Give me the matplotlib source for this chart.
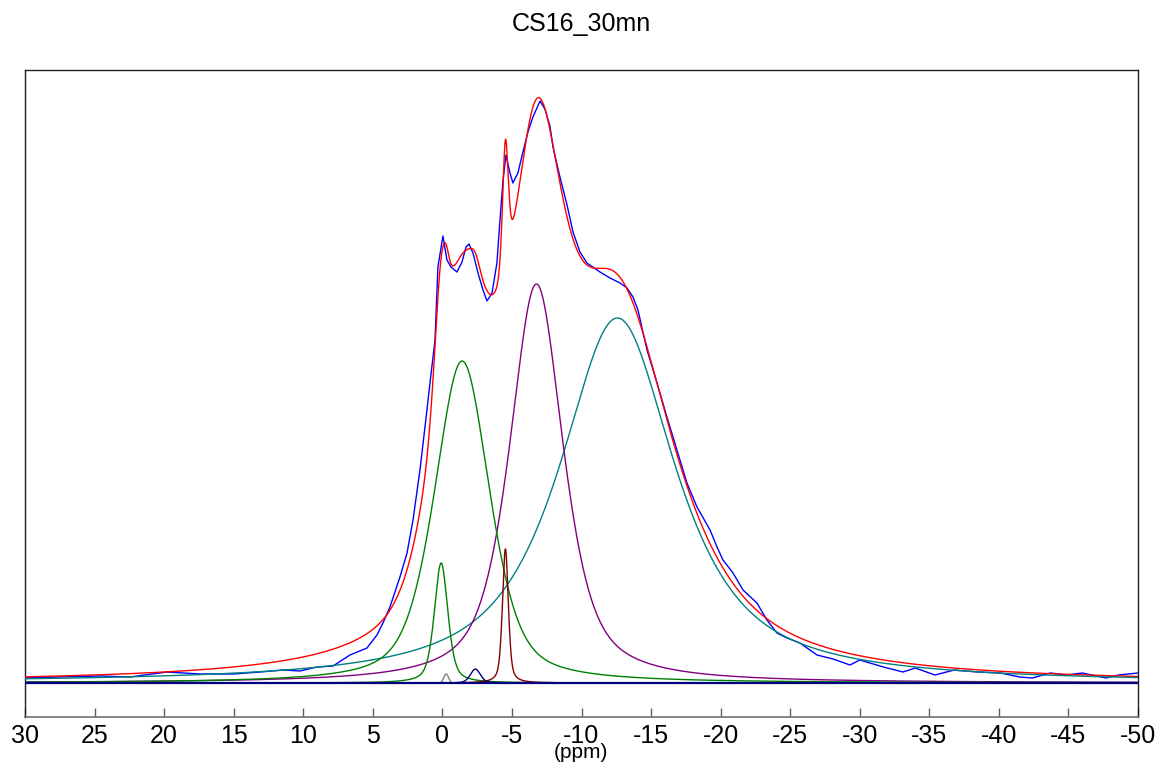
import numpy as np
import matplotlib
matplotlib.use("Agg")
import matplotlib.pyplot as plt

plt.rcParams['font.family'] = ['Liberation Sans', 'DejaVu Sans']

exp_ppm = [30.0, 27.49, 24.61, 22.46, 19.80, 17.42, 15.05, 13.11, 11.46, 10.24,
           9.01, 7.86, 6.64, 5.42, 4.70, 4.27, 3.77, 3.05, 2.54, 2.11,
           1.61, 1.25, 0.89, 0.53, 0.32, -0.04, -0.33, -0.62, -1.05, -1.41,
           -1.70, -1.91, -2.20, -2.56, -2.92, -3.21, -3.57, -3.92, -4.14, -4.36,
           -4.57, -4.86, -5.07, -5.43, -5.79, -6.15, -6.51, -7.02, -7.37, -7.73,
           -7.95, -8.45, -8.96, -9.39, -9.89, -10.39, -11.33, -12.05, -12.77, -13.27,
           -13.70, -14.06, -14.71, -15.43, -16.14, -16.86, -17.58, -18.30, -19.24, -19.74,
           -20.17, -20.89, -21.61, -22.61, -23.33, -24.05, -24.77, -25.70, -26.93, -28.08,
           -29.30, -30.0, -31.7, -33.1, -34.0, -35.4, -36.8, -38.5, -40.1, -41.5,
           -42.4, -43.7, -44.9, -46.0, -47.7, -48.6, -50.0]
exp_int = [5, 6, 7, 6, 11, 9, 9, 11, 13, 12,
           16, 17, 28, 35, 48, 60, 76, 106, 130, 163,
           213, 256, 300, 343, 416, 447, 423, 416, 411, 421,
           436, 439, 430, 410, 393, 382, 390, 420, 463, 503,
           528, 510, 500, 510, 531, 551, 566, 582, 574, 557,
           536, 506, 478, 451, 431, 420, 411, 405, 400, 395,
           386, 373, 333, 300, 266, 233, 200, 176, 153, 136,
           123, 110, 93, 80, 63, 50, 45, 40, 28, 24,
           18, 23, 16, 11, 15, 8, 13, 11, 10, 6,
           5, 10, 8, 10, 5, 8, 10]

# ---- Fitted components (position ppm, height, FWHM ppm, Lorentzian fraction)
comp_names = ['Q0 broad', 'Q0 narrow', 'Q1', 'Q1 narrow', 'Q2', 'Q3', 'Q0 minor']
comp_pos = [-1.42, 0.09, -2.37, -4.53, -6.76, -12.58, -0.27]
comp_height = [322, 120, 14, 134, 399, 365, 9]
comp_fwhm = [4.7, 1.15, 0.85, 0.5, 4.6, 10.0, 0.4]
comp_lfrac = [0.5, 0.5, 0.3, 0.5, 0.65, 0.85, 0.0]
comp_colors = ['#008000', '#008000', '#000080', '#800000', '#800080', '#008080', '#808080']

tick_vals = [30, 25, 20, 15, 10, 5, 0, -5, -10, -15, -20, -25, -30, -35, -40, -45, -50]
tick_labels = ['30', '25', '20', '15', '10', '5', '0', '-5', '-10', '-15', '-20',
               '-25', '-30', '-35', '-40', '-45', '-50']


def pseudo_voigt(x, x0, h, w, eta):
    d = (x - x0) / w
    lor = 1.0 / (1.0 + 4.0 * d ** 2)
    gau = np.exp(-4.0 * np.log(2.0) * d ** 2)
    return h * (eta * lor + (1 - eta) * gau)


grid = np.linspace(30, -50, 8001)
comps = [pseudo_voigt(grid, p, h, w, e)
         for p, h, w, e in zip(comp_pos, comp_height, comp_fwhm, comp_lfrac)]
total = np.sum(comps, axis=0)

fig = plt.figure(figsize=(11.59, 7.63), dpi=100)
ax = fig.add_axes([25 / 1159, 1 - 717 / 763, (1138 - 25) / 1159, (717 - 70) / 763])

ax.plot(exp_ppm, exp_int, color='#0000ff', lw=1.0, zorder=3)
ax.plot(grid, total, color='#ff0000', lw=1.0, zorder=4)
order = [5, 4, 0, 1, 3, 6, 2]
for i in order:
    ax.plot(grid, comps[i], color=comp_colors[i], lw=1.0, zorder=5)
ax.axhline(0, color='#000080', lw=1.6, zorder=6)

ax.set_xlim(30, -50)
ax.set_ylim(-34, 613)
ax.set_yticks([])
ax.set_xticks(tick_vals)
ax.set_xticklabels(tick_labels, fontsize=18)
ax.tick_params(axis='x', direction='in', length=6.5, width=1.0, color='#606060', pad=5)
for s in ['left', 'top', 'right']:
    ax.spines[s].set_color('#202020')
    ax.spines[s].set_linewidth(1.0)
ax.spines['bottom'].set_color('#707070')
ax.spines['bottom'].set_linewidth(1.2)

fig.text(581 / 1159, 1 - 24 / 763, 'CS16_30mn', ha='center', va='center', fontsize=18)
fig.text(581 / 1159, 1 / 763, '(ppm)', ha='center', va='bottom', fontsize=15)

fig.savefig('out.png', dpi=100)
